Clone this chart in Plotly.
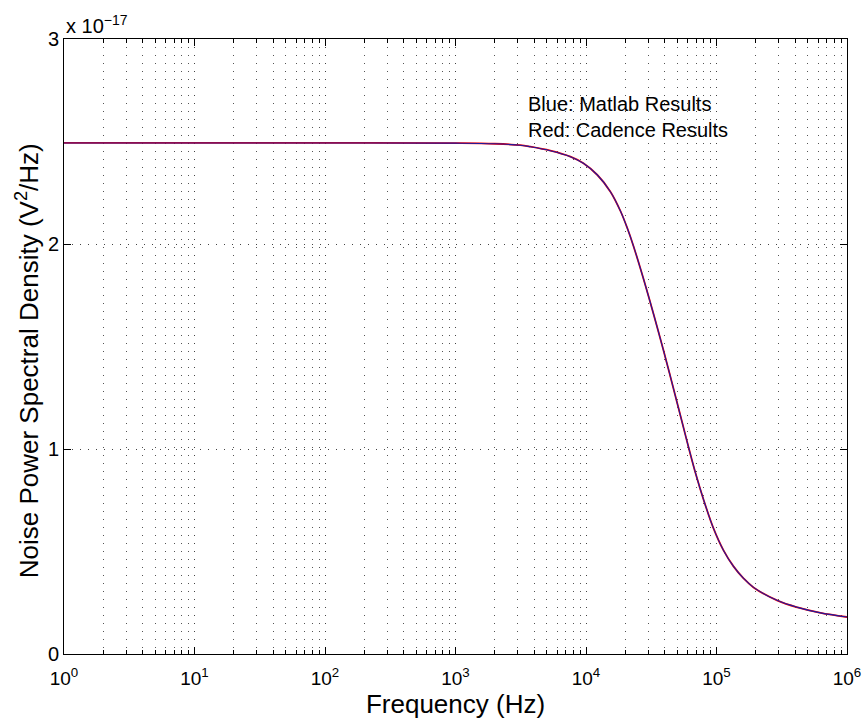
import plotly.graph_objects as go

# Frequencies (Hz) and noise PSD (units of 1e-17 V^2/Hz)
freq_hz = [1, 10, 100, 1000, 2000, 3140, 3746, 5333, 7594, 9552, 12230, 15390,
           18360, 20780, 23090, 28540, 39230, 52960, 61000, 69020, 79490, 94840,
           113200, 135000, 161200, 192200, 293700, 418000, 627400, 1000000]
psd_matlab = [2.493, 2.493, 2.493, 2.492, 2.489, 2.482, 2.4746, 2.4551, 2.4259, 2.3937,
              2.3366, 2.2551, 2.1610, 2.0756, 1.9907, 1.7976, 1.4815, 1.1620, 1.0098,
              0.8829, 0.7541, 0.6127, 0.5054, 0.4273, 0.3688, 0.3249, 0.2605, 0.2273,
              0.2005, 0.1805]
psd_cadence = list(psd_matlab)

x_tickvals = [1, 10, 100, 1000, 10000, 100000, 1000000]
x_ticktext = ["10<sup>0</sup>", "10<sup>1</sup>", "10<sup>2</sup>", "10<sup>3</sup>",
              "10<sup>4</sup>", "10<sup>5</sup>", "10<sup>6</sup>"]
y_tickvals = [0, 1, 2, 3]
y_ticktext = ["0", "1", "2", "3"]

FONT = "Liberation Sans, Arial, Helvetica, sans-serif"
GRID_DASH = "1px,7px"

fig = go.Figure()
fig.add_trace(go.Scatter(x=freq_hz, y=psd_cadence, mode="lines", line_shape="spline",
                         line=dict(color="#ff0000", width=1.8, smoothing=1.0),
                         name="Cadence", showlegend=False))
fig.add_trace(go.Scatter(x=freq_hz, y=psd_matlab, mode="lines", line_shape="spline",
                         line=dict(color="#1a1aa0", width=1.1, smoothing=1.0),
                         name="Matlab", showlegend=False))

axis_common = dict(showline=True, linecolor="black", linewidth=1, mirror="ticks",
                   ticks="inside", tickcolor="black", ticklen=7, automargin=False,
                   showgrid=True, gridcolor="#444444", griddash=GRID_DASH, gridwidth=1,
                   zeroline=False)

fig.update_xaxes(type="log", range=[0, 6], tickvals=x_tickvals, ticktext=x_ticktext,
                 ticklabelstandoff=7,
                 tickfont=dict(family=FONT, size=19, color="black"),
                 minor=dict(ticks="inside", ticklen=4, tickcolor="black", dtick="D1",
                            showgrid=True, gridcolor="#555555", griddash=GRID_DASH,
                            gridwidth=1),
                 title=dict(text="Frequency (Hz)", font=dict(family=FONT, size=26, color="black"),
                            standoff=0),
                 **axis_common)
fig.update_yaxes(range=[0, 3], tickvals=y_tickvals, ticktext=y_ticktext,
                 tickfont=dict(family=FONT, size=20, color="black"), **axis_common)

fig.add_annotation(xref="paper", yref="paper", x=0.0, y=0.476, xanchor="center",
                   yanchor="middle", xshift=-37, textangle=-90, showarrow=False,
                   text="Noise Power Spectral Density (V<sup>2</sup>/Hz)",
                   font=dict(family=FONT, size=26, color="black"))
fig.add_annotation(xref="paper", yref="paper", x=0.0, y=1.0, xanchor="left", yanchor="bottom",
                   text="x 10<sup>\u221217</sup>", showarrow=False, yshift=0,
                   font=dict(family=FONT, size=20, color="black"))
fig.add_annotation(x=3.54, y=2.62, xanchor="left", yanchor="middle", align="left",
                   text="Blue: Matlab Results<br>Red: Cadence Results", showarrow=False,
                   font=dict(family=FONT, size=20, color="black"))

fig.update_layout(width=862, height=725, plot_bgcolor="white", paper_bgcolor="white",
                  margin=dict(l=64, r=15, t=39, b=71),
                  font=dict(family=FONT, color="black"))

fig.write_html("out.html")
